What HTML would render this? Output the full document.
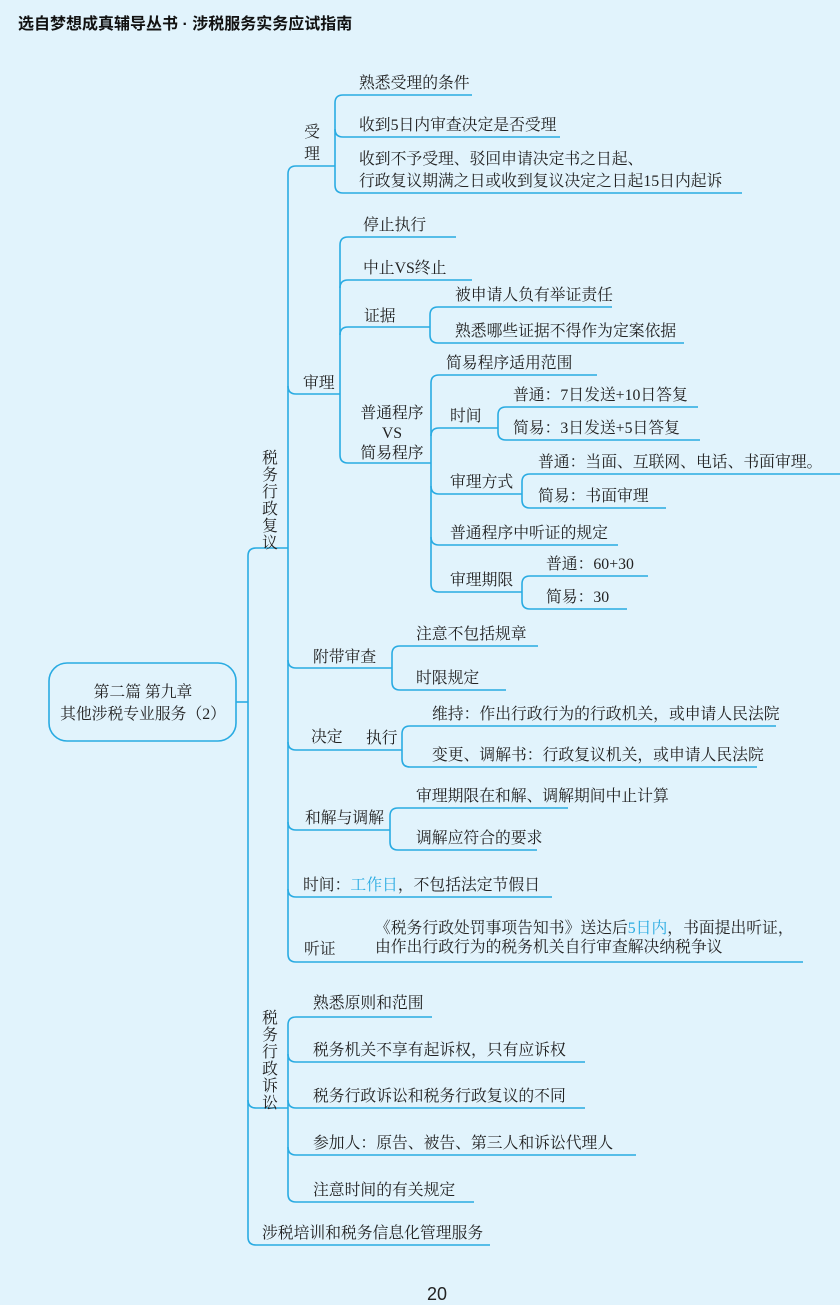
<!DOCTYPE html>
<html><head><meta charset="utf-8"><style>
html,body{margin:0;padding:0;background:#e1f3fc;}
svg{display:block}
text{font-family:"Liberation Serif","Noto Serif CJK SC",serif;font-size:15.8px;fill:#222}
.h{font-family:"Liberation Sans","Noto Sans CJK SC",sans-serif;font-weight:bold;font-size:16px;fill:#111}
</style></head><body>
<svg width="840" height="1305" viewBox="0 0 840 1305" xmlns="http://www.w3.org/2000/svg">
<rect width="840" height="1305" fill="#e1f3fc"/>
<text class="h" x="18" y="29">选自梦想成真辅导丛书 · 涉税服务实务应试指南</text>
<g fill="none" stroke="#29abe2" stroke-width="1.6">
<rect x="49" y="663" width="187" height="78" rx="18"/>
<path d="M236 702H248"/>
<path d="M248 556V1237"/>
<path d="M248 556Q248 548 256 548H288"/>
<path d="M248 1100Q248 1108 256 1108H288"/>
<path d="M248 1237Q248 1245 256 1245H490"/>
<path d="M288 174V954"/>
<path d="M288 174Q288 166 296 166H335"/>
<path d="M288 386Q288 394 296 394H340"/>
<path d="M288 660Q288 668 296 668H392"/>
<path d="M288 742Q288 750 296 750H402"/>
<path d="M288 822Q288 830 296 830H390"/>
<path d="M288 889Q288 897 296 897H552"/>
<path d="M288 954Q288 962 296 962H803"/>
<path d="M335 103V185"/>
<path d="M335 103Q335 95 343 95H472"/>
<path d="M335 129Q335 137 343 137H560"/>
<path d="M335 185Q335 193 343 193H742"/>
<path d="M340 245V455"/>
<path d="M340 245Q340 237 348 237H456"/>
<path d="M340 288Q340 280 348 280H472"/>
<path d="M340 335Q340 327 348 327H430"/>
<path d="M340 455Q340 463 348 463H431"/>
<path d="M430 315V335"/>
<path d="M430 315Q430 307 438 307H612"/>
<path d="M430 335Q430 343 438 343H684"/>
<path d="M431 383V584"/>
<path d="M431 383Q431 375 439 375H597"/>
<path d="M431 436Q431 428 439 428H498"/>
<path d="M431 486Q431 494 439 494H522"/>
<path d="M431 537Q431 545 439 545H618"/>
<path d="M431 584Q431 592 439 592H522"/>
<path d="M498 415V432"/>
<path d="M498 415Q498 407 506 407H698"/>
<path d="M498 432Q498 440 506 440H700"/>
<path d="M522 482V500"/>
<path d="M522 482Q522 474 530 474H840"/>
<path d="M522 500Q522 508 530 508H666"/>
<path d="M522 584V601"/>
<path d="M522 584Q522 576 530 576H648"/>
<path d="M522 601Q522 609 530 609H627"/>
<path d="M392 654V682"/>
<path d="M392 654Q392 646 400 646H538"/>
<path d="M392 682Q392 690 400 690H506"/>
<path d="M402 734V759"/>
<path d="M402 734Q402 726 410 726H776"/>
<path d="M402 759Q402 767 410 767H757"/>
<path d="M390 816V842"/>
<path d="M390 816Q390 808 398 808H568"/>
<path d="M390 842Q390 850 398 850H537"/>
<path d="M288 1025V1194"/>
<path d="M288 1025Q288 1017 296 1017H432"/>
<path d="M288 1054Q288 1062 296 1062H585"/>
<path d="M288 1100Q288 1108 296 1108H585"/>
<path d="M288 1147Q288 1155 296 1155H636"/>
<path d="M288 1194Q288 1202 296 1202H474"/>
</g>
<text x="143" y="697" text-anchor="middle">第二篇  第九章</text>
<text x="143" y="719" text-anchor="middle">其他涉税专业服务（2）</text>
<g text-anchor="middle">
<text x="270" y="463">税</text><text x="270" y="480">务</text><text x="270" y="497">行</text><text x="270" y="514">政</text><text x="270" y="531">复</text><text x="270" y="548">议</text>
<text x="270" y="1023">税</text><text x="270" y="1040">务</text><text x="270" y="1057">行</text><text x="270" y="1074">政</text><text x="270" y="1091">诉</text><text x="270" y="1108">讼</text>
<text x="312" y="137">受</text><text x="312" y="159">理</text>
<text x="392" y="418">普通程序</text><text x="392" y="438">VS</text><text x="392" y="458">简易程序</text>
</g>
<text x="359" y="88">熟悉受理的条件</text>
<text x="359" y="130">收到5日内审查决定是否受理</text>
<text x="359" y="164">收到不予受理、驳回申请决定书之日起、</text>
<text x="359" y="186">行政复议期满之日或收到复议决定之日起15日内起诉</text>
<text x="303" y="388">审理</text>
<text x="363" y="230">停止执行</text>
<text x="363" y="273">中止VS终止</text>
<text x="364" y="321">证据</text>
<text x="455" y="300">被申请人负有举证责任</text>
<text x="455" y="336">熟悉哪些证据不得作为定案依据</text>
<text x="446" y="368">简易程序适用范围</text>
<text x="450" y="421">时间</text>
<text x="513" y="400">普通：7日发送+10日答复</text>
<text x="513" y="433">简易：3日发送+5日答复</text>
<text x="450" y="487">审理方式</text>
<text x="538" y="467">普通：当面、互联网、电话、书面审理。</text>
<text x="538" y="501">简易：书面审理</text>
<text x="450" y="538">普通程序中听证的规定</text>
<text x="450" y="585">审理期限</text>
<text x="546" y="569">普通：60+30</text>
<text x="546" y="602">简易：30</text>
<text x="313" y="662">附带审查</text>
<text x="416" y="639">注意不包括规章</text>
<text x="416" y="683">时限规定</text>
<text x="311" y="742">决定</text>
<text x="366" y="743">执行</text>
<text x="432" y="719">维持：作出行政行为的行政机关，或申请人民法院</text>
<text x="432" y="760">变更、调解书：行政复议机关，或申请人民法院</text>
<text x="305" y="823">和解与调解</text>
<text x="416" y="801">审理期限在和解、调解期间中止计算</text>
<text x="416" y="843">调解应符合的要求</text>
<text x="303" y="890">时间：<tspan style="fill:#29abe2">工作日</tspan>，不包括法定节假日</text>
<text x="304" y="954">听证</text>
<text x="375" y="933">《税务行政处罚事项告知书》送达后<tspan style="fill:#29abe2">5日内</tspan>，书面提出听证，</text>
<text x="375" y="952">由作出行政行为的税务机关自行审查解决纳税争议</text>
<text x="313" y="1008">熟悉原则和范围</text>
<text x="313" y="1055">税务机关不享有起诉权，只有应诉权</text>
<text x="313" y="1101">税务行政诉讼和税务行政复议的不同</text>
<text x="313" y="1148">参加人：原告、被告、第三人和诉讼代理人</text>
<text x="313" y="1195">注意时间的有关规定</text>
<text x="262" y="1238">涉税培训和税务信息化管理服务</text>
<text x="437" y="1300" text-anchor="middle" style="font-family:'Liberation Sans',sans-serif;font-size:18px">20</text>
</svg>
</body></html>
